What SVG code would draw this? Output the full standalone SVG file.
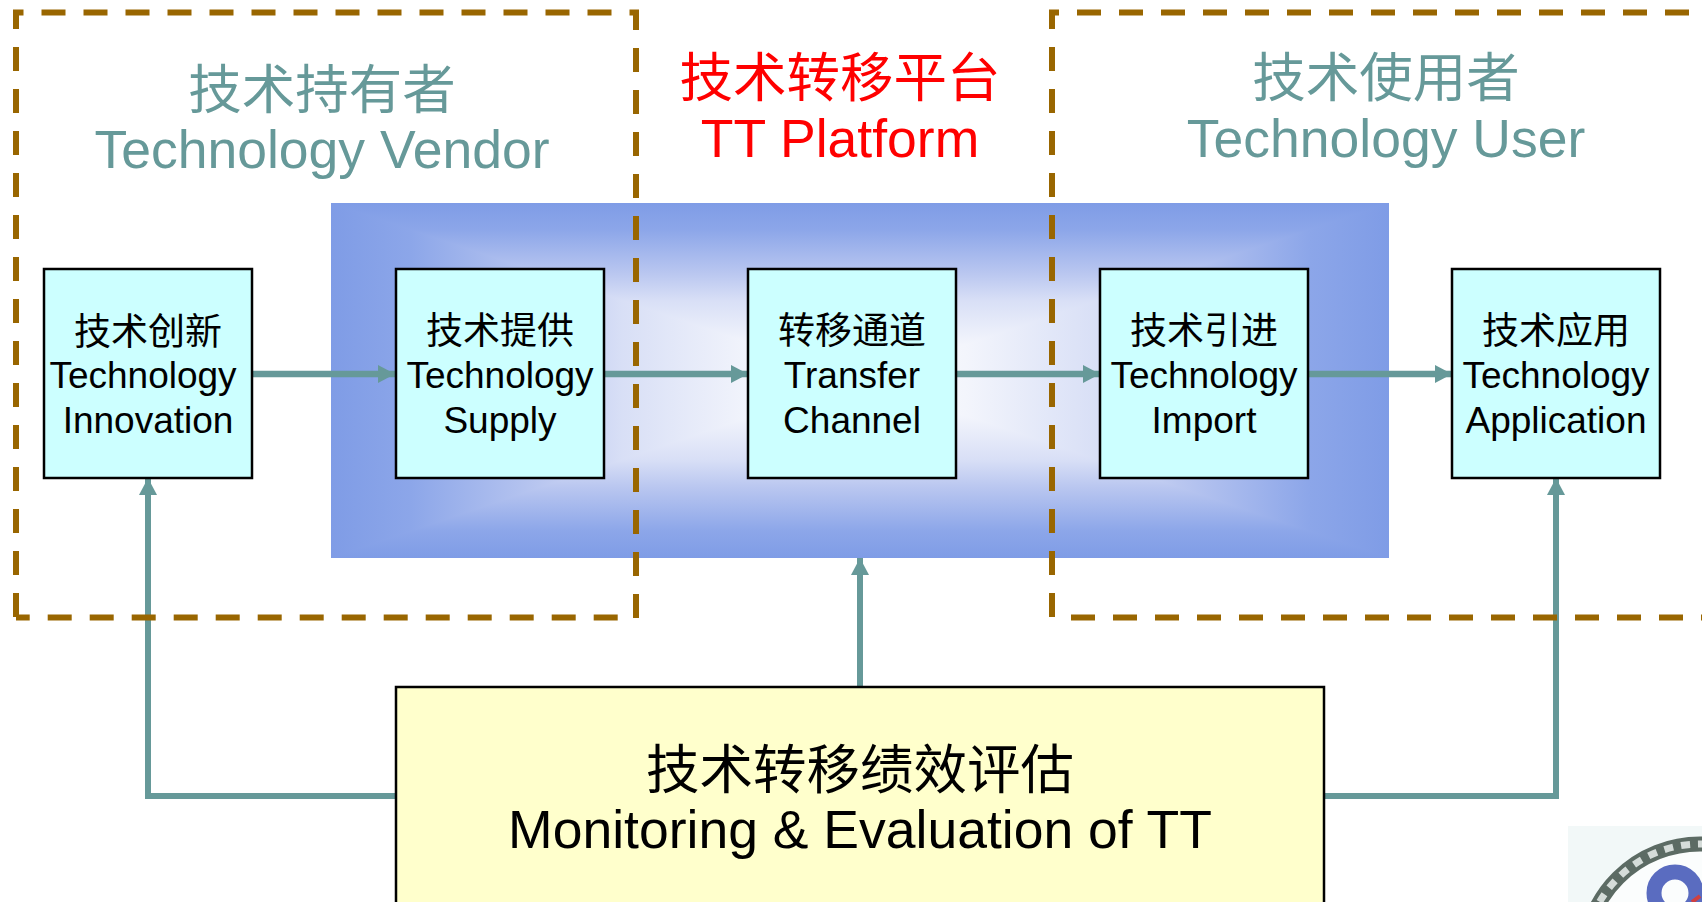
<svg xmlns="http://www.w3.org/2000/svg" width="1702" height="902" viewBox="0 0 1702 902">
<style>
text{text-anchor:middle;font-family:"Liberation Sans","Noto Sans CJK SC",sans-serif}
.t{font-size:53.500px;fill:#669999}
.r{font-size:53.500px;fill:#ff0000}
.b{font-size:37px;fill:#000}
.y{font-size:53.500px;fill:#000}
.box{fill:#ccffff;stroke:#000;stroke-width:2.500}
.ybox{fill:#ffffcc;stroke:#000;stroke-width:2.500}
.dash{fill:none;stroke:#996600;stroke-width:6;stroke-dasharray:24 18}
.c{fill:none;stroke:#669999;stroke-width:6}
.h{stroke-width:6.500}
</style>
<defs>
<marker id="a" markerUnits="userSpaceOnUse" markerWidth="18" markerHeight="20" refX="17" refY="10" orient="auto"><path d="M0 1L17 10L0 19Z" fill="#669999"/></marker>
<linearGradient id="s"><stop offset="0" stop-color="#7f9ce6"/><stop offset=".15" stop-color="#8ca6e9"/><stop offset=".4" stop-color="#bac7f0"/><stop offset=".55" stop-color="#d8dff6"/><stop offset=".8" stop-color="#f3f5fc"/><stop offset="1" stop-color="#ffffff"/></linearGradient>
<linearGradient id="gt" href="#s" gradientUnits="userSpaceOnUse" x1="0" y1="203" x2="0" y2="380"/>
<linearGradient id="gb" href="#s" gradientUnits="userSpaceOnUse" x1="0" y1="558" x2="0" y2="380"/>
<linearGradient id="gl" href="#s" gradientUnits="userSpaceOnUse" x1="331" y1="0" x2="860" y2="0"/>
<linearGradient id="gr" href="#s" gradientUnits="userSpaceOnUse" x1="1389" y1="0" x2="860" y2="0"/>
</defs>
<g id="platform-band" shape-rendering="crispEdges">
<polygon points="331,203 1389,203 860,380" fill="url(#gt)"/>
<polygon points="331,558 1389,558 860,380" fill="url(#gb)"/>
<polygon points="331,203 331,558 860,380" fill="url(#gl)"/>
<polygon points="1389,203 1389,558 860,380" fill="url(#gr)"/>
</g>
<g id="connectors">
<path class="c h" marker-end="url(#a)" d="M252 374H395"/>
<path class="c h" marker-end="url(#a)" d="M604 374H748"/>
<path class="c h" marker-end="url(#a)" d="M957 374H1100"/>
<path class="c h" marker-end="url(#a)" d="M1309 374H1452"/>
<path class="c" marker-end="url(#a)" d="M860 687V558"/>
<path class="c" marker-end="url(#a)" d="M396 796H148V478"/>
<path class="c" marker-end="url(#a)" d="M1324 796H1556V478"/>
</g>
<g id="zones">
<path class="dash" stroke-dashoffset="13.500" d="M13 12.500H639"/>
<path class="dash" stroke-dashoffset="4" d="M636 10V620"/>
<path class="dash" stroke-dashoffset="10.300" d="M16 617.500H633"/>
<path class="dash" stroke-dashoffset="5" d="M16 10V620"/>
<path class="dash" stroke-dashoffset="5" d="M1052 10V620"/>
<path class="dash" d="M1071 617.500H1702"/>
<path class="dash" stroke-dashoffset="14" d="M1049 12.500H1702"/>
</g>
<g id="title-vendor"><text class="t" x="322" y="109">技术持有者</text><text class="t" x="322" y="168">Technology Vendor</text></g>
<g id="title-platform"><text class="r" x="840" y="97">技术转移平台</text><text class="r" x="840" y="157">TT Platform</text></g>
<g id="title-user"><text class="t" x="1386" y="97">技术使用者</text><text class="t" x="1386" y="157">Technology User</text></g>
<g id="n1"><rect class="box" x="44" y="269" width="208" height="209"/><text class="b" x="148" y="345">技术创新</text><text class="b" x="143" y="388">Technology</text><text class="b" x="148" y="433">Innovation</text></g>
<g id="n2"><rect class="box" x="396" y="269" width="208" height="209"/><text class="b" x="500" y="344">技术提供</text><text class="b" x="500" y="388">Technology</text><text class="b" x="500" y="433">Supply</text></g>
<g id="n3"><rect class="box" x="748" y="269" width="208" height="209"/><text class="b" x="852" y="344">转移通道</text><text class="b" x="852" y="388">Transfer</text><text class="b" x="852" y="433">Channel</text></g>
<g id="n4"><rect class="box" x="1100" y="269" width="208" height="209"/><text class="b" x="1204" y="344">技术引进</text><text class="b" x="1204" y="388">Technology</text><text class="b" x="1204" y="433">Import</text></g>
<g id="n5"><rect class="box" x="1452" y="269" width="208" height="209"/><text class="b" x="1556" y="344">技术应用</text><text class="b" x="1556" y="388">Technology</text><text class="b" x="1556" y="433">Application</text></g>
<g id="n6"><rect class="ybox" x="396" y="687" width="928" height="230"/><text class="y" x="860" y="789">技术转移绩效评估</text><text class="y" x="860" y="848">Monitoring &amp; Evaluation of TT</text></g>
<g id="logo"><rect x="1568" y="826" width="134" height="76" fill="#f2f8f8"/>
<circle cx="1700" cy="960" r="116" fill="#fbfdfd" stroke="#5c6b64" stroke-width="15"/>
<circle cx="1700" cy="960" r="116" fill="none" stroke="#d5dcd9" stroke-width="7" stroke-dasharray="9 8"/>
<circle cx="1675" cy="893" r="21" fill="none" stroke="#5a6cc0" stroke-width="15"/>
<path d="M1692 902L1700 896" stroke="#d04040" stroke-width="4"/></g>
</svg>
